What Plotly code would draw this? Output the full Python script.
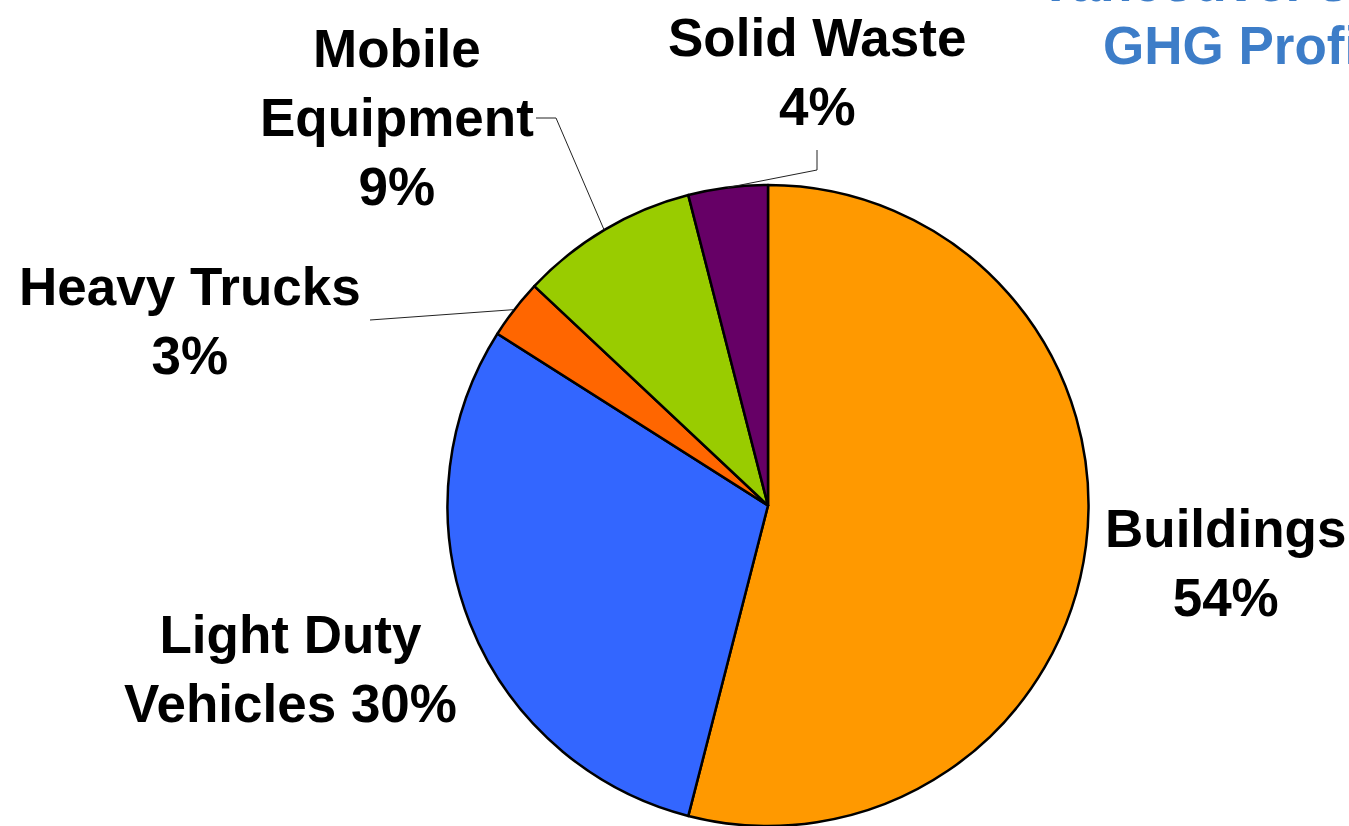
import math
import plotly.graph_objects as go

# ---- data ----
categories = ["Buildings", "Light Duty Vehicles", "Heavy Trucks", "Mobile Equipment", "Solid Waste"]
shares = [54, 30, 3, 9, 4]
colors = ["#FF9900", "#3366FF", "#FF6600", "#99CC00", "#660066"]
label_texts = [
    "Buildings<br>54%",
    "Light Duty<br>Vehicles 30%",
    "Heavy Trucks<br>3%",
    "Mobile<br>Equipment<br>9%",
    "Solid Waste<br>4%",
]
title_lines = ["Vancouver's Community", "GHG Profile"]

# ---- layout constants (pixels) ----
W, H = 1349, 826
CX, CY, R = 768, 507, 322   # pie centre / radius in px (from top-left)
FONT = "Liberation Sans, Arial, sans-serif"
FS = 53

def px(x):
    return x / W

def py(y):
    return 1 - y / H

# label centre positions in px
label_pos = [(1225, 563), (290, 669), (190, 321), (397, 118), (817, 72)]

fig = go.Figure(go.Pie(
    labels=categories,
    values=shares,
    sort=False,
    direction="clockwise",
    rotation=0,
    marker=dict(colors=colors, line=dict(color="black", width=2.5)),
    textinfo="none",
    hoverinfo="label+percent",
    showlegend=False,
    domain=dict(x=[px(CX - R - 1), px(CX + R + 1)],
                y=[0, (H - CY + R) / H]),
))

annotations = []
for (lx, ly), txt in zip(label_pos, label_texts):
    annotations.append(dict(
        x=px(lx), y=py(ly), xref="paper", yref="paper",
        text="<b>" + txt + "</b>", showarrow=False,
        xanchor="center", yanchor="middle", align="center",
        font=dict(family=FONT, size=FS, color="black"),
    ))

# title (cut off at the top-right, as in the reference)
annotations.append(dict(
    x=px(1036), y=py(-17), xref="paper", yref="paper",
    text="<b>" + title_lines[0] + "</b>", showarrow=False,
    xanchor="left", yanchor="middle", align="left",
    font=dict(family=FONT, size=FS, color="#3D7DC8"),
))
annotations.append(dict(
    x=px(1101), y=py(45), xref="paper", yref="paper",
    text="<b>" + title_lines[1] + "</b>", showarrow=False,
    xanchor="left", yanchor="middle", align="left",
    font=dict(family=FONT, size=FS, color="#3D7DC8"),
))

# leader lines: from slice mid-angle on the rim to the label side
total = sum(shares)
cum = 0
mids = []
for v in shares:
    mids.append((cum + v / 2) / total * 360)
    cum += v

def rim(angle_deg):
    a = math.radians(angle_deg)
    return CX + R * math.sin(a), CY - R * math.cos(a)

shapes = []
leader_paths = {
    2: [(370, 320)],                    # Heavy Trucks
    3: [(536, 118), (556, 118)],        # Mobile Equipment
    4: [(817, 150), (817, 170)],        # Solid Waste
}
for idx, pts in leader_paths.items():
    ex, ey = rim(mids[idx])
    all_pts = list(pts) + [(ex, ey)]
    path = "M " + " L ".join(f"{px(x)},{py(y)}" for x, y in all_pts)
    shapes.append(dict(type="path", path=path, xref="paper", yref="paper",
                       line=dict(color="#222222", width=1)))

fig.update_layout(
    width=W, height=H,
    margin=dict(l=0, r=0, t=0, b=0),
    paper_bgcolor="white", plot_bgcolor="white",
    annotations=annotations,
    shapes=shapes,
)

fig.write_html(
    "out.html",
    config={"displayModeBar": False},
    post_script="document.body.style.margin='0px';document.body.style.overflow='hidden';",
)
